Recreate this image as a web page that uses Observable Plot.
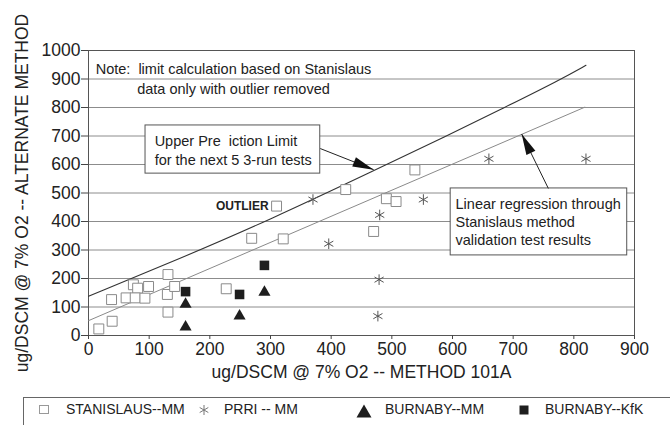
<!DOCTYPE html>
<html>
<head>
<meta charset="utf-8">
<script src="https://cdn.jsdelivr.net/npm/d3@7"></script>
<script src="https://cdn.jsdelivr.net/npm/@observablehq/plot@0.6"></script>
<style>
  body { margin: 0; background: #fff; width: 670px; height: 425px; overflow: hidden;
         font-family: "Liberation Sans", Arial, Helvetica, sans-serif; color: #222; position: relative; }
  #legend { position: absolute; left: 23px; top: 397px; width: 700px; height: 40px;
            border: 1px solid #666; box-sizing: border-box; }
  .item { position: absolute; top: 0; height: 24px; font-size: 14px; }
  .item svg { position: absolute; top: 6px; }
  .item span { position: absolute; top: 3px; white-space: nowrap; }
</style>
</head>
<body>
<div id="chart"></div>
<div id="legend"></div>
<script>
// Stanislaus method validation runs (open squares); the outlier is kept apart
const stanislausX = [17, 39, 38, 62, 74, 81, 99, 77, 93, 131, 130, 131, 142, 227, 269, 321, 424, 538, 491, 507, 470];
const stanislausY = [23, 50, 126, 132, 178, 166, 172, 132, 131, 214, 144, 82, 172, 164, 341, 339, 512, 581, 480, 470, 365];
const outlierX = [310];
const outlierY = [454];

// PRRI -- MM (asterisks)
const prriX = [660, 820, 552, 480, 370, 396, 479, 477];
const prriY = [620, 620, 477, 423, 477, 322, 196, 68];

// BURNABY -- MM (filled triangles)
const burnabyMMX = [160, 160, 249, 290];
const burnabyMMY = [110, 30, 68, 152];

// BURNABY -- KfK (filled squares)
const burnabyKfKX = [160, 249, 290];
const burnabyKfKY = [154, 144, 246];

// Upper prediction limit (slightly curved) and linear regression line
const upperX = [0, 150, 300, 470, 591, 684, 778, 820];
const upperY = [138, 269, 407, 578, 701, 798, 898, 948];
const regressionX = [0, 818];
const regressionY = [52, 801];

// Axis ticks
const xTicks = d3.range(0, 901, 100);
const yTicks = d3.range(0, 1001, 100);
const gridY = d3.range(100, 901, 100);

// Annotation texts
const noteText = "Note:  limit calculation based on Stanislaus\ndata only with outlier removed";
const upperText = "Upper Pre  iction Limit\nfor the next 5 3-run tests";
const regressionText = "Linear regression through\nStanislaus method\nvalidation test results";
const xLabel = "ug/DSCM @ 7% O2 -- METHOD 101A";
const yLabel = "ug/DSCM @ 7% O2 -- ALTERNATE METHOD";

const legendNames = ["STANISLAUS--MM", "PRRI -- MM", "BURNABY--MM", "BURNABY--KfK"];

const zip = (xs, ys) => xs.map((x, i) => ({x, y: ys[i]}));
const stanislaus = zip(stanislausX, stanislausY);
const outlier = zip(outlierX, outlierY);
const prri = zip(prriX, prriY);
const burnabyMM = zip(burnabyMMX, burnabyMMY);
const burnabyKfK = zip(burnabyKfKX, burnabyKfKY);
const upper = zip(upperX, upperY);
const regression = zip(regressionX, regressionY);

// Annotation boxes and their pointer arrows (data units)
const boxes = [
  {x1: 94, x2: 382, y1: 568, y2: 737},
  {x1: 597, x2: 888, y1: 281, y2: 516}
];
const arrows = [
  {x1: 382, y1: 656, x2: 470, y2: 582},
  {x1: 758, y1: 516, x2: 714, y2: 707}
];

const W = 670, H = 385;
const M = {top: 50, right: 36, bottom: 50, left: 88};
const xs = d3.scaleLinear([0, 900], [M.left, W - M.right]);
const ys = d3.scaleLinear([0, 1000], [H - M.bottom, M.top]);
arrows.forEach(a => {
  const dx = xs(a.x2) - xs(a.x1), dy = ys(a.y2) - ys(a.y1);
  a.angle = Math.atan2(dx, -dy) * 180 / Math.PI;
});

// Elongated solid arrowhead pointing up, tip at the origin
const arrowHead = {
  draw(ctx) { ctx.moveTo(0, 0); ctx.lineTo(-5, 21); ctx.lineTo(5, 21); ctx.closePath(); }
};

const font = 17.5;
const plot = Plot.plot({
  width: W, height: H,
  marginTop: M.top, marginRight: M.right, marginBottom: M.bottom, marginLeft: M.left,
  style: {fontFamily: "'Liberation Sans', Arial, Helvetica, sans-serif", color: "#222", background: "#fff"},
  x: {domain: [0, 900]},
  y: {domain: [0, 1000]},
  marks: [
    Plot.ruleY(gridY, {stroke: "#8c8c8c", strokeWidth: 1}),
    Plot.frame({stroke: "#555", strokeWidth: 1}),
    Plot.line(regression, {x: "x", y: "y", stroke: "#8a8a8a", strokeWidth: 1}),
    Plot.line(upper, {x: "x", y: "y", curve: "basis", stroke: "#333", strokeWidth: 1.1}),
    Plot.text([noteText], {x: 239, y: 905, text: d => d, fontSize: 14.5, lineHeight: 1.38, textAnchor: "middle", fill: "#222"}),
    Plot.rect(boxes, {x1: "x1", x2: "x2", y1: "y1", y2: "y2", fill: "white", stroke: "#555", strokeWidth: 1}),
    Plot.text([upperText], {x: 109, y: 654, text: d => d, fontSize: 14.5, lineHeight: 1.31, textAnchor: "start", fill: "#222"}),
    Plot.text([regressionText], {x: 605, y: 400, text: d => d, fontSize: 14.5, lineHeight: 1.25, textAnchor: "start", fill: "#222"}),
    Plot.link(arrows, {x1: "x1", y1: "y1", x2: "x2", y2: "y2", stroke: "#222", strokeWidth: 1}),
    Plot.dot(arrows, {x: "x2", y: "y2", symbol: arrowHead, rotate: "angle", fill: "#111", stroke: "none"}),
    Plot.dot(stanislaus, {x: "x", y: "y", symbol: "square", r: 5.6, stroke: "#8a8a8a", fill: "white", strokeWidth: 1}),
    Plot.dot(outlier, {x: "x", y: "y", symbol: "square", r: 5.6, stroke: "#8a8a8a", fill: "white", strokeWidth: 1}),
    Plot.text(outlier, {x: "x", y: "y", text: () => "OUTLIER", textAnchor: "end", dx: -8, fontSize: 12, fontWeight: 600, fill: "#222"}),
    Plot.dot(prri, {x: "x", y: "y", symbol: "asterisk", r: 5, stroke: "#555", strokeWidth: 1}),
    Plot.dot(burnabyMM, {x: "x", y: "y", symbol: "triangle", r: 4.5, fill: "#1e1e1e", stroke: "none"}),
    Plot.dot(burnabyKfK, {x: "x", y: "y", symbol: "square", r: 5.4, fill: "#1e1e1e", stroke: "none"}),
    Plot.axisX({ticks: xTicks, tickFormat: d => String(d), tickSize: 4, tickPadding: 3, fontSize: font, label: null, stroke: "#444", fill: "#222"}),
    Plot.axisY({ticks: yTicks, tickFormat: d => String(d), tickSize: 7, tickPadding: 1, fontSize: font, label: null, stroke: "#444", fill: "#222"}),
    Plot.text([xLabel], {frameAnchor: "bottom", dy: 37, text: d => d, fontSize: font, textAnchor: "middle", lineAnchor: "middle", fill: "#222"}),
    Plot.text([yLabel], {frameAnchor: "left", dx: -66, rotate: -90, text: d => d, fontSize: font, textAnchor: "middle", lineAnchor: "middle", fill: "#222"})
  ]
});
document.getElementById("chart").appendChild(plot);

// Legend row below the chart
const legendSymbols = [
  `<svg width="12" height="12"><rect x="1.5" y="1.5" width="9" height="8" fill="white" stroke="#999"/></svg>`,
  `<svg width="12" height="12"><g stroke="#777" stroke-width="1"><line x1="6" y1="1" x2="6" y2="11"/><line x1="1.7" y1="3.5" x2="10.3" y2="8.5"/><line x1="1.7" y1="8.5" x2="10.3" y2="3.5"/></g></svg>`,
  `<svg width="16" height="14"><path d="M8 0.5 L15.5 13.5 L0.5 13.5 Z" fill="#1e1e1e"/></svg>`,
  `<svg width="12" height="12"><rect x="1.5" y="1.5" width="9" height="9" fill="#1e1e1e"/></svg>`
];
const symbolLeft = [14, 174, 332, 494];
const textLeft = [42, 200, 361, 521];
const legend = document.getElementById("legend");
legendNames.forEach((name, i) => {
  const item = document.createElement("div");
  item.className = "item";
  item.innerHTML = `<svg style="left:${symbolLeft[i]}px" ${legendSymbols[i].slice(4)}<span style="left:${textLeft[i]}px">${name}</span>`;
  legend.appendChild(item);
});
</script>
</body>
</html>
